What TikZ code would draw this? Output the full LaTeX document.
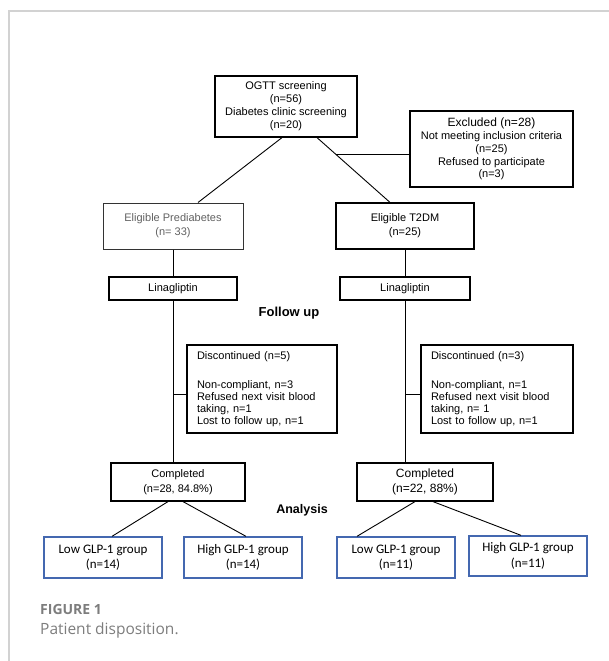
\documentclass[tikz,border=0pt]{standalone}
\usepackage{fontspec}
\setmainfont{Liberation Sans}
\newfontfamily\glpfont{Carlito}
\newfontfamily\capfont{Open Sans}
\usetikzlibrary{calc}

\definecolor{glpblue}{RGB}{68,104,176}
\definecolor{framegray}{RGB}{210,210,210}
\definecolor{capgray}{RGB}{125,125,125}

\tikzset{
	flowbox/.style={draw=black, line width=1.2pt, inner sep=0pt, align=center, font=\fontsize{11}{13}\selectfont},
	drugbox/.style={flowbox, line width=1.8pt},
	greybox/.style={flowbox, draw=black!80, line width=1pt, text=black!62},
	dropbox/.style={flowbox, align=left, text width=130pt, inner xsep=10pt, font=\fontsize{11}{12}\selectfont},
	glpbox/.style={draw=glpblue, line width=1.3pt, inner sep=0pt, align=center, font=\glpfont\fontsize{13}{15.5}\selectfont},
	stage/.style={font=\bfseries\fontsize{13}{15}\selectfont},
	link/.style={line width=0.9pt},
	captext/.style={anchor=base west, inner sep=0pt, text=capgray},
}

\begin{document}
\begin{tikzpicture}[x=1pt, y=-1pt]
			%%%%% START %%%%%
			\useasboundingbox (0,0) rectangle (609,661);
			\draw[framegray, line width=1.5pt] (9,661) -- (9,11) -- (609,11);
			
			\node[flowbox, minimum width=142pt, minimum height=61pt] (ogtt) at (286,106.5) {OGTT screening\\(n=56)\\Diabetes clinic screening\\(n=20)};
			\node[flowbox, minimum width=163pt, minimum height=76pt, font=\fontsize{11}{12.8}\selectfont] (excl) at (491.5,149) {{\fontsize{12}{13}\selectfont Excluded (n=28)}\\Not meeting inclusion criteria\\(n=25)\\Refused to participate\\(n=3)};
			
			\node[greybox, minimum width=140pt, minimum height=46pt, font=\fontsize{11}{14}\selectfont] (eligP) at (173,226) {Eligible Prediabetes\\(n= 33)};
			\node[flowbox, minimum width=138pt, minimum height=46pt, font=\fontsize{11}{14}\selectfont] (eligT) at (405,226) {Eligible T2DM\\(n=25)};
			
			\node[drugbox, minimum width=128pt, minimum height=23pt] (linaP) at (173,288.5) {Linagliptin};
			\node[drugbox, minimum width=130pt, minimum height=23pt] (linaT) at (405,288.5) {Linagliptin};
			
			\node[stage] (follow) at (289,313) {Follow up};
			
			\node[dropbox, minimum height=88pt] (dropP) at (262,389) {Discontinued (n=5)\\[17pt]Non-compliant, n=3\\Refused next visit blood\\taking, n=1\\Lost to follow up, n=1};
			\node[dropbox, text width=132pt, minimum height=88pt] (dropT) at (497,389) {Discontinued (n=3)\\[17pt]Non-compliant, n=1\\Refused next visit blood\\taking, n= 1\\Lost to follow up, n=1};
			
			\node[flowbox, minimum width=134pt, minimum height=38pt, font=\fontsize{11}{15}\selectfont] (compP) at (178,482) {Completed\\(n=28, 84.8\%)};
			\node[flowbox, minimum width=136pt, minimum height=38pt, font=\fontsize{12}{15}\selectfont] (compT) at (425,482) {Completed\\(n=22, 88\%)};
			
			\node[stage, font=\bfseries\fontsize{12.5}{15}\selectfont] (analysis) at (302,510) {Analysis};
			
			\node[glpbox, minimum width=118pt, minimum height=41pt] (lowP) at (103,557.5) {Low GLP-1 group\\(n=14)};
			\node[glpbox, minimum width=118pt, minimum height=41pt] (highP) at (243,557.5) {High GLP-1 group\\(n=14)};
			\node[glpbox, minimum width=118pt, minimum height=41pt] (lowT) at (396,557.5) {Low GLP-1 group\\(n=11)};
			\node[glpbox, minimum width=118pt, minimum height=40pt] (highT) at (528,556) {High GLP-1 group\\(n=11)};
			
			% screening split
			\draw[link] ($(ogtt.south)+(-4,0)$) -- ($(eligP.north)+(25,0)$);
			\draw[link] ($(ogtt.south)+(31,0)$) coordinate (o2) -- ($(eligT.north)+(-15,0)$) coordinate (e2);
			\coordinate (exjoin) at ($(o2)!0.26!(e2)$);
			\draw[link] (exjoin) -- (exjoin -| excl.west);
			
			% follow up
			\draw[link] (eligP) -- (linaP);
			\draw[link] (eligT) -- (linaT);
			\draw[link] (linaP.south) -- (linaP.south |- compP.north);
			\draw[link] (linaT.south) -- (linaT.south |- compT.north);
			\coordinate (dPin) at ($(dropP.west)+(0,5)$);
			\coordinate (dTin) at ($(dropT.west)+(0,5)$);
			\draw[link] (linaP.south |- dPin) -- (dPin);
			\draw[link] (linaT.south |- dTin) -- (dTin);
			
			% analysis split
			\draw[link] ($(compP.south)+(-10,0)$) -- ($(lowP.north)+(9,0)$);
			\draw[link] ($(compP.south)+(5,0)$) -- ($(highP.north)+(3,0)$);
			\draw[link] ($(compT.south)+(-10,0)$) -- ($(lowT.north)+(-39,0)$);
			\draw[link] ($(compT.south)+(8,0)$) -- ($(highT.north)+(-7,0)$);
			
			\node[captext, font=\capfont\bfseries\fontsize{14}{16}\selectfont] (figlabel) at (40,614) {FIGURE 1};
			\node[captext, font=\capfont\fontsize{15.5}{18}\selectfont] (figcaption) at (40,634) {Patient disposition.};
			%%%%% END %%%%%
\end{tikzpicture}
\end{document}
